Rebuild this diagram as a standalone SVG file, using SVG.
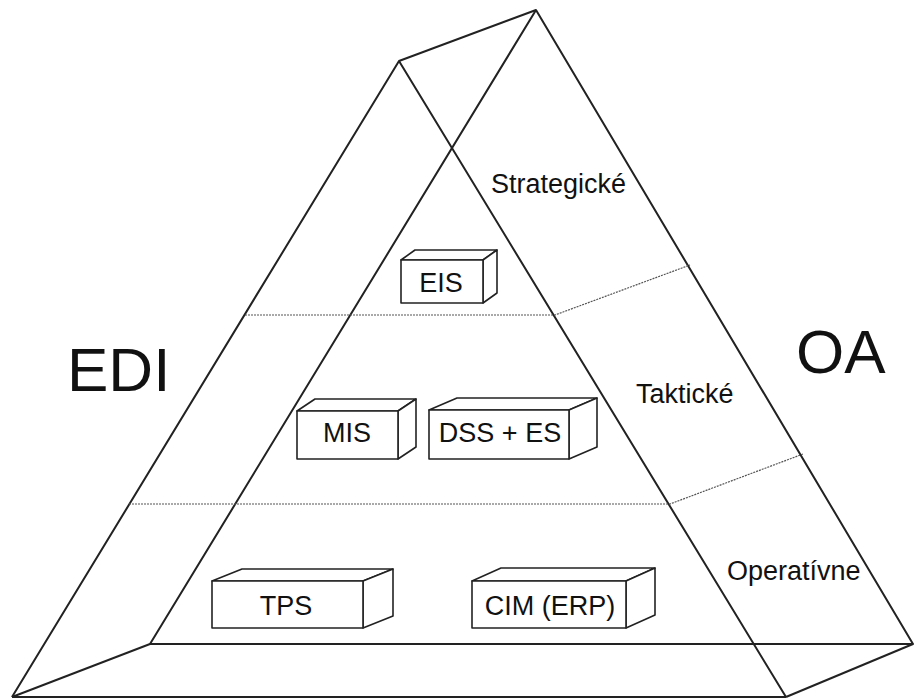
<svg xmlns="http://www.w3.org/2000/svg" width="915" height="700" viewBox="0 0 915 700">
  <style>
    .edge { fill: none; stroke: #222; stroke-width: 2; stroke-linejoin: round; }
    .level { fill: none; stroke: #555; stroke-width: 1.2; stroke-dasharray: 2 1; }
    .box path { fill: #fff; stroke: #222; stroke-width: 1.6; stroke-linejoin: round; }
    .lbl { font-family: "Liberation Sans", Arial, sans-serif; fill: #111; }
    .box text { font-size: 27px; text-anchor: middle; }
  </style>

  <!-- pyramid wireframe and level separators -->
  <g id="connectors">
    <!-- back triangle -->
    <path class="edge" d="M150,644 L536,10 L913,644 Z"/>
    <!-- front triangle -->
    <path class="edge" d="M12,697 L399,61 L786,697"/>
    <line class="edge" x1="12" y1="697" x2="786" y2="697" stroke-width="3"/>
    <!-- depth edges -->
    <line class="edge" x1="399" y1="61" x2="536" y2="10"/>
    <line class="edge" x1="12" y1="697" x2="150" y2="644"/>
    <line class="edge" x1="786" y1="697" x2="913" y2="644"/>
    <!-- level boundaries -->
    <path class="level" d="M245,315 L555,315 L690,265"/>
    <path class="level" d="M129,504 L670,504 L803,454"/>
  </g>

  <g id="label-edi"><text class="lbl" x="67" y="391" font-size="62">EDI</text></g>
  <g id="label-oa"><text class="lbl" x="796" y="373" font-size="62">OA</text></g>
  <g id="label-strategicke"><text class="lbl" x="491" y="193" font-size="27">Strategické</text></g>
  <g id="label-takticke"><text class="lbl" x="636" y="403" font-size="27">Taktické</text></g>
  <g id="label-operativne"><text class="lbl" x="727" y="580" font-size="27">Operatívne</text></g>

  <!-- system blocks: front face, top face, side face -->
  <g id="eis" class="box">
    <path d="M401,260 L415,250 L497,250 L483,260 Z"/>
    <path d="M483,260 L497,250 L497,293 L483,303 Z"/>
    <path d="M401,260 H483 V303 H401 Z"/>
    <text class="lbl" x="441" y="292">EIS</text>
  </g>
  <g id="mis" class="box">
    <path d="M297,411 L315,399 L416,399 L398,411 Z"/>
    <path d="M398,411 L416,399 L416,447 L398,459 Z"/>
    <path d="M297,411 H398 V459 H297 Z"/>
    <text class="lbl" x="347" y="442">MIS</text>
  </g>
  <g id="dss-es" class="box">
    <path d="M429,410 L457,398 L597,398 L569,410 Z"/>
    <path d="M569,410 L597,398 L597,447 L569,459 Z"/>
    <path d="M429,410 H569 V459 H429 Z"/>
    <text class="lbl" x="500" y="442">DSS + ES</text>
  </g>
  <g id="tps" class="box">
    <path d="M212,581 L242,569 L393,569 L363,581 Z"/>
    <path d="M363,581 L393,569 L393,616 L363,628 Z"/>
    <path d="M212,581 H363 V628 H212 Z"/>
    <text class="lbl" x="286" y="615">TPS</text>
  </g>
  <g id="cim-erp" class="box">
    <path d="M472,581 L501,568 L655,568 L626,581 Z"/>
    <path d="M626,581 L655,568 L655,615 L626,628 Z"/>
    <path d="M472,581 H626 V628 H472 Z"/>
    <text class="lbl" x="550" y="615">CIM (ERP)</text>
  </g>
</svg>
